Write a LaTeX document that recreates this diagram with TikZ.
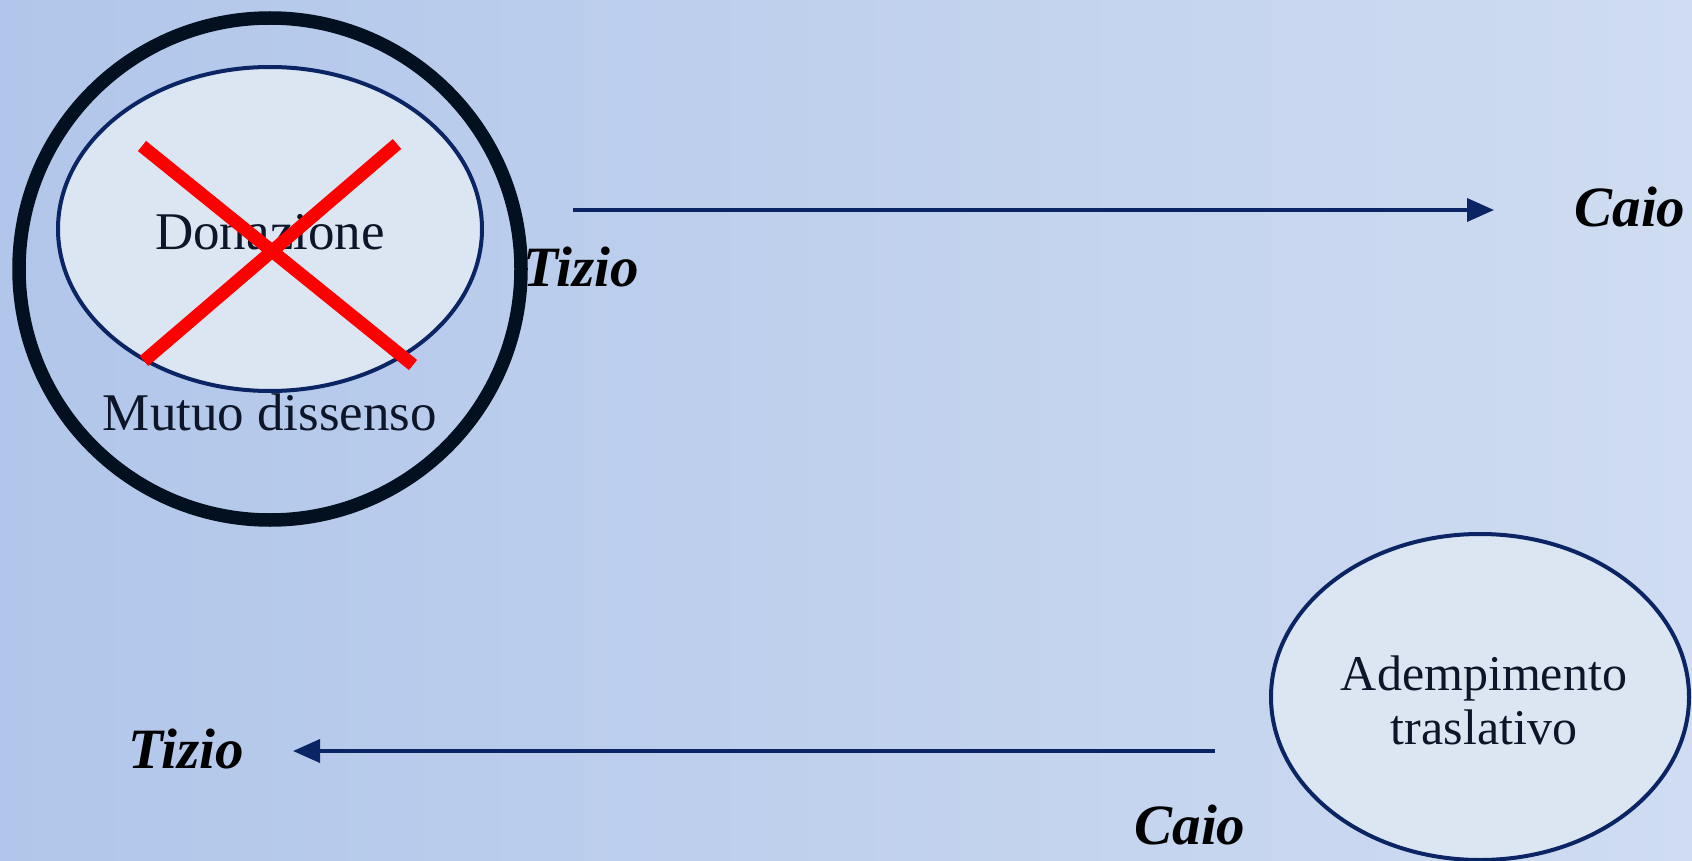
\documentclass[tikz,border=0pt]{standalone}
\usepackage{fontspec}
\setmainfont{Liberation Serif}
\usetikzlibrary{shapes.geometric,arrows.meta}
\definecolor{navy}{RGB}{10,36,100}
\definecolor{ink}{RGB}{12,22,40}
\definecolor{outerc}{RGB}{2,16,31}
\definecolor{pale}{RGB}{220,230,242}
\definecolor{bgl}{RGB}{177,198,234}
\definecolor{bgr}{RGB}{207,220,241}
\tikzset{
  bubble/.style={draw=navy, fill=pale, ellipse, line width=4pt, inner sep=0pt},
  txt/.style={text=ink, font=\fontsize{53}{57}\selectfont, inner sep=0pt},
  person/.style={text=black, font=\fontsize{57}{60}\selectfont\bfseries\itshape, inner sep=0pt, anchor=base},
  flow/.style={draw=navy, line width=3.6pt, -{Triangle[length=27pt,width=23pt]}},
  cross/.style={draw=red, line width=13pt}
}
\begin{document}
\begin{tikzpicture}[x=1pt,y=-1pt]
\shade[left color=bgl, right color=bgr] (0,0) rectangle (1692,861);
\path[use as bounding box] (0,0) rectangle (1692,861);
% outer circle
\node[draw=outerc, ellipse, line width=13.5pt, minimum width=502pt, minimum height=502pt, inner sep=0pt] (outer) at (270,269) {};
% inner ellipse
\node[bubble, minimum width=424pt, minimum height=324pt] (don) at (270,229) {};
\node[txt, anchor=base] (dontxt) at (270,250) {Donazione};
\node[txt, anchor=base] (mutuo) at (270,430) {Mutuo dissenso};
% red cross
\draw[cross] (142,146) -- (413,365);
\draw[cross] (397,144) -- (144,361);
% top row
\node[person] (tizio1) at (581,286) {Tizio};
\node[person] (caio1) at (1630,227) {Caio};
\coordinate (a1s) at (573,210);
\coordinate (a1e) at (1494,210);
\draw[flow] (a1s) -- (a1e);
% bottom right ellipse
\node[bubble, minimum width=418pt, minimum height=326pt] (adem) at (1480,697) {};
\node[txt, font=\fontsize{50}{54}\selectfont, align=center] (ademtxt) at (1484,700) {Adempimento\\traslativo};
% bottom row
\node[person] (tizio2) at (186,768) {Tizio};
\node[person] (caio2) at (1190,844) {Caio};
\coordinate (a2s) at (1215,751);
\coordinate (a2e) at (293,751);
\draw[flow] (a2s) -- (a2e);
\end{tikzpicture}
\end{document}
